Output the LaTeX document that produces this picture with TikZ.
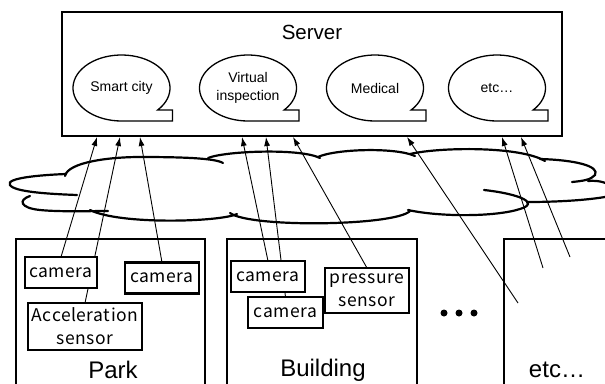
\documentclass[tikz,border=0pt]{standalone}
\usepackage{fontspec}
\setmainfont{Liberation Sans}
\newfontfamily\labelfont[LetterSpace=3]{Noto Sans CJK JP}
\usetikzlibrary{arrows.meta,calc,backgrounds}

\begin{document}
\begin{tikzpicture}[x=1pt,y=-1pt,
  frame/.style={draw,line width=1.4pt,inner sep=0pt,outer sep=0pt},
  area/.style={draw,line width=2pt,inner sep=0pt,outer sep=0pt},
  sensorbox/.style={draw,line width=2.6pt,fill=white,inner sep=0pt,outer sep=0pt,
    font=\labelfont\fontsize{17.5}{23}\selectfont,align=center},
  link/.style={line width=0.9pt,-{Latex[length=9pt,width=6pt]}},
  cloudline/.style={line width=2.2pt,line cap=round},
  bubbleline/.style={line width=1.3pt},
  bubbletext/.style={font=\fontsize{14}{18}\selectfont,align=center},
  bigtext/.style={font=\fontsize{24}{28}\selectfont},
  dotmark/.style={circle,fill,inner sep=0pt,minimum size=7pt}]

\useasboundingbox (0,0) rectangle (605,383);
\clip (0,0) rectangle (605,383);

% server frame and title
\node[frame,anchor=north west,minimum width=500pt,minimum height=124pt] (server) at (62,12) {};
\node[font=\fontsize{20.5}{24}\selectfont] (servertitle) at (312,32) {Server};

% speech bubbles: ellipse with a stepped tail at the lower right
\newcommand\speechbubble[1]{%
  \draw[bubbleline] (#1.center) ++(42:48.5 and 33)
    arc[start angle=42,end angle=-270,x radius=48.5,y radius=33]
    -- ++(51,0) -- ++(0,-11) -- cycle;}
\node[bubbletext] (smart) at (121.5,88) {Smart city};
\node[bubbletext] (virtual) at (248,88) {Virtual\\inspection};
\node[bubbletext] (medical) at (375,88) {Medical};
\node[bubbletext] (etcapp) at (497,88) {etc…};
\speechbubble{smart}
\speechbubble{virtual}
\speechbubble{medical}
\speechbubble{etcapp}

% network cloud
\draw[cloudline] (65,176) .. controls (68,162) and (110,157) .. (140,157)
  .. controls (180,157) and (215,158) .. (223,163);
\draw[cloudline] (208,158) .. controls (225,151) and (300,148) .. (320,158);
\draw[cloudline] (318,157) .. controls (335,149) and (395,147) .. (415,156);
\draw[cloudline] (410,154) .. controls (440,147) and (520,146) .. (545,161);
\draw[cloudline] (540,159) .. controls (575,160) and (600,166) .. (595,175)
  .. controls (591,180) and (582,181) .. (572,182);
\draw[cloudline] (588,181) .. controls (600,180) and (608,183) .. (614,188);
\draw[cloudline] (614,195) .. controls (600,199) and (565,202) .. (528,202);
\draw[cloudline] (484,190) .. controls (520,194) and (540,203) .. (520,209)
  .. controls (495,217) and (440,217) .. (408,210);
\draw[cloudline] (410,211) .. controls (395,226) and (250,228) .. (230,213);
\draw[cloudline] (237,214) .. controls (220,222) and (120,225) .. (90,210);
\draw[cloudline] (30,196) .. controls (18,200) and (20,208) .. (40,210)
  .. controls (60,212) and (90,211) .. (108,211);
\draw[cloudline] (66,174) .. controls (40,175) and (5,178) .. (10,185)
  .. controls (14,192) and (50,194) .. (77,195);

% sites
\node[area,anchor=north west,minimum width=189pt,minimum height=160pt] (park) at (16,239) {};
\node[area,anchor=north west,minimum width=190pt,minimum height=160pt] (building) at (227,239) {};
\node[area,anchor=north west,minimum width=130pt,minimum height=160pt] (othersite) at (504,239) {};
\node[bigtext] (parklabel) at (113,370) {Park};
\node[bigtext] (buildinglabel) at (323,370) {Building};
\node[bigtext] (otherlabel) at (557,370) {etc…};

\node[dotmark] (dot1) at (444,313) {};
\node[dotmark] (dot2) at (459,313) {};
\node[dotmark] (dot3) at (474,313) {};

% sensors
\node[sensorbox,minimum width=72pt,minimum height=31pt] (pcam1) at (61,272.5) {camera};
\node[sensorbox,minimum width=74pt,minimum height=31pt] (pcam2) at (162,278) {camera};
\node[sensorbox,minimum width=114pt,minimum height=47pt] (acc) at (85,326.5) {Acceleration\\sensor};
\node[sensorbox,minimum width=74pt,minimum height=31pt] (bcam1) at (268,276.5) {camera};
\node[sensorbox,minimum width=75pt,minimum height=31pt] (bcam2) at (285.5,312.5) {camera};
\node[sensorbox,minimum width=84pt,minimum height=45pt] (pres) at (367,290.5) {pressure\\sensor};

% arrow targets on the server frame and free line ends
\coordinate (t1) at (97,137);
\coordinate (t2) at (120,137);
\coordinate (t3) at (140,137);
\coordinate (t4) at (242,137);
\coordinate (t5) at (266,137);
\coordinate (t6) at (293,137);
\coordinate (t7) at (407,137);
\coordinate (t8) at (502,137);
\coordinate (t9) at (521,137);
\coordinate (medfoot) at (518,303);
\coordinate (etcfootA) at (543,268);
\coordinate (etcfootB) at (570,257);

% data links, kept behind the white sensor boxes
\begin{scope}[on background layer]
\draw[link] (pcam1.north) -- (t1);
\draw[link] (acc.north) -- (t2);
\draw[link] (pcam2.north) -- (t3);
\draw[link] (bcam1.north) -- (t4);
\draw[link] (bcam2.north) -- (t5);
\draw[link] (pres.north) -- (t6);
\draw[link] (medfoot) -- (t7);
\draw[link] (etcfootA) -- (t8);
\draw[link] (etcfootB) -- (t9);
\end{scope}
\end{tikzpicture}
\end{document}
